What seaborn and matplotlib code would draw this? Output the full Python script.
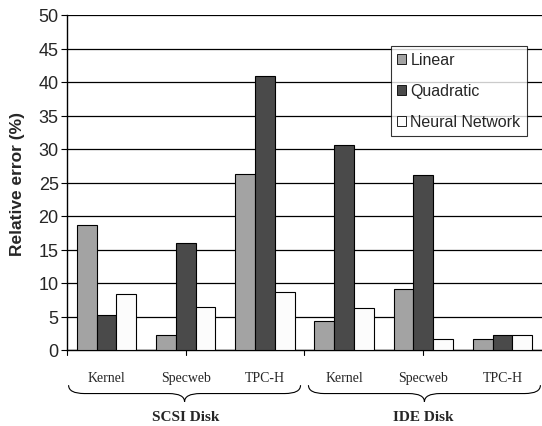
import matplotlib
matplotlib.use("Agg")
import matplotlib.pyplot as plt
import matplotlib.transforms as mtransforms
from matplotlib.path import Path
from matplotlib.patches import PathPatch
import seaborn as sns
import pandas as pd

disks = ["SCSI Disk", "IDE Disk"]
workloads = ["Kernel", "Specweb", "TPC-H"]
models = ["Linear", "Quadratic", "Neural Network"]
linear = [18.6, 2.3, 26.3, 4.3, 9.1, 1.7]
quadratic = [5.2, 15.9, 40.9, 30.6, 26.1, 2.3]
neural = [8.3, 6.4, 8.7, 6.2, 1.7, 2.3]
colors = ["#a3a3a3", "#4a4a4a", "#fcfcfc"]

cats = [f"{d}|{w}" for d in disks for w in workloads]
rows = []
for m, vals in zip(models, [linear, quadratic, neural]):
    for c, v in zip(cats, vals):
        rows.append({"cat": c, "model": m, "value": v})
df = pd.DataFrame(rows)

sns.set_theme(style="white")
plt.rcParams["font.family"] = ["Liberation Sans", "DejaVu Sans"]

fig = plt.figure(figsize=(5.42, 4.27), dpi=100)
ax = fig.add_axes([67/542, (427-351)/427, 475/542, 335/427])

sns.barplot(data=df, x="cat", y="value", hue="model", order=cats,
            hue_order=models, palette=colors, width=0.75,
            edgecolor="black", linewidth=0.8, ax=ax, zorder=3)

ax.set_ylim(0, 50)
ax.set_xlim(-0.5, 5.5)
ax.set_yticks(range(0, 51, 5))
ax.tick_params(axis="y", labelsize=13, length=4, width=0.8, color="black", pad=2, direction="out", left=True)
ax.yaxis.grid(True, color="black", linewidth=0.9, zorder=0)
ax.set_axisbelow(True)
for s in ["top", "right"]:
    ax.spines[s].set_visible(False)
for s in ["left", "bottom"]:
    ax.spines[s].set_color("black")
    ax.spines[s].set_linewidth(1.0)

# category tick labels
ax.set_xticks(range(6))
ax.set_xticklabels([c.split("|")[1] for c in cats], family="Liberation Serif", fontsize=10)
ax.tick_params(axis="x", length=0, pad=15)
# small separator ticks
trans = mtransforms.blended_transform_factory(ax.transData, ax.transAxes)
for xt in [-0.5, 1.0, 2.5, 4.0]:
    ax.plot([xt, xt], [0, -0.015], color="black", lw=0.8, transform=trans, clip_on=False)

ax.set_xlabel("")
ax.set_ylabel("Relative error (%)", fontsize=12.5, fontweight="bold", labelpad=10)

# braces
def brace(x0, x1):
    xm = (x0 + x1) / 2
    ytop, ymid, ybot = -0.105, -0.13, -0.155
    verts = [(x0, ytop), (x0, ymid), (x0 + 0.2, ymid),
             (xm - 0.2, ymid), (xm, ymid), (xm, ybot),
             (xm, ymid), (xm + 0.2, ymid),
             (x1 - 0.2, ymid), (x1, ymid), (x1, ytop)]
    codes = [Path.MOVETO, Path.CURVE3, Path.CURVE3,
             Path.LINETO, Path.CURVE3, Path.CURVE3,
             Path.CURVE3, Path.CURVE3,
             Path.LINETO, Path.CURVE3, Path.CURVE3]
    p = PathPatch(Path(verts, codes), fill=False, edgecolor="black", lw=0.8,
                  transform=trans, clip_on=False)
    ax.add_patch(p)

brace(-0.48, 2.45)
brace(2.55, 5.48)
for i, d in enumerate(disks):
    ax.text(1 + 3 * i, -0.2, d, transform=trans, ha="center", va="center",
            family="Liberation Serif", fontsize=11, fontweight="bold")

leg = ax.legend(loc="upper right", frameon=True,
                fontsize=11.5, handlelength=0.6, handleheight=0.6, handletextpad=0.25,
                labelspacing=1.0, borderpad=0.4, borderaxespad=0, fancybox=False,
                bbox_to_anchor=((527-67)/475, (351-47)/335), bbox_transform=ax.transAxes)
leg.get_frame().set_edgecolor("black")
leg.get_frame().set_linewidth(0.8)
for h in leg.legend_handles:
    h.set_edgecolor("black")
    h.set_linewidth(0.6)

fig.savefig("out.png", dpi=100)
